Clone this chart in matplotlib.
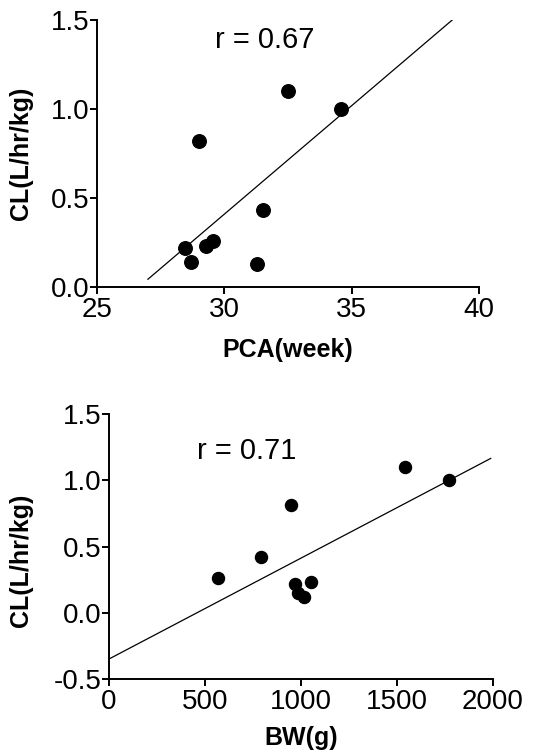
import matplotlib
matplotlib.use('Agg')
import matplotlib.pyplot as plt

plt.rcParams['font.family'] = ['Liberation Sans', 'DejaVu Sans']

# top panel: PCA vs CL
pca = [28.45, 28.7, 29.0, 29.3, 29.55, 31.3, 31.5, 32.5, 34.6]
cl_pca = [0.22, 0.14, 0.82, 0.23, 0.26, 0.13, 0.43, 1.10, 1.00]
pca_fit_x = [27.0, 38.95]
pca_fit_y = [0.043, 1.5]
r_pca = 'r = 0.67'

# bottom panel: BW vs CL
bw = [570, 790, 950, 970, 985, 1015, 1055, 1545, 1770]
cl_bw = [0.26, 0.42, 0.81, 0.22, 0.15, 0.12, 0.23, 1.10, 1.00]
bw_fit_x = [0, 1990]
bw_fit_y = [-0.347, 1.165]
r_bw = 'r = 0.71'

fig = plt.figure(figsize=(5.48, 7.55), dpi=100)
ax1 = fig.add_axes([0.177, 0.620, 0.697, 0.3535])
ax2 = fig.add_axes([0.199, 0.1003, 0.700, 0.3514])


def style(ax):
    for s in ['top', 'right']:
        ax.spines[s].set_visible(False)
    for s in ['left', 'bottom']:
        ax.spines[s].set_linewidth(1.4)
    ax.tick_params(direction='out', length=5, width=1.4, labelsize=20)
    ax.tick_params(axis='y', pad=0.5)
    ax.tick_params(axis='x', pad=2)


ax1.scatter(pca, cl_pca, s=95, color='black', zorder=3)
ax1.plot(pca_fit_x, pca_fit_y, color='black', lw=0.9)
ax1.set_xlim(25, 40)
ax1.set_ylim(0, 1.5)
ax1.set_xticks([25, 30, 35, 40])
ax1.set_yticks([0.0, 0.5, 1.0, 1.5])
ax1.set_yticklabels(['0.0', '0.5', '1.0', '1.5'])
ax1.text(29.63, 1.34, r_pca, fontsize=21, ha='left', va='baseline')
ax1.set_xlabel('PCA(week)', fontsize=18, fontweight='bold')
ax1.set_ylabel('CL(L/hr/kg)', fontsize=18, fontweight='bold')
ax1.xaxis.set_label_coords(0.5, -0.19)
ax1.yaxis.set_label_coords(-0.168, 0.5)
style(ax1)

ax2.scatter(bw, cl_bw, s=75, color='black', zorder=3)
ax2.plot(bw_fit_x, bw_fit_y, color='black', lw=0.9)
ax2.set_xlim(0, 2000)
ax2.set_ylim(-0.5, 1.5)
ax2.set_xticks([0, 500, 1000, 1500, 2000])
ax2.set_yticks([-0.5, 0.0, 0.5, 1.0, 1.5])
ax2.set_yticklabels(['-0.5', '0.0', '0.5', '1.0', '1.5'])
ax2.text(459, 1.16, r_bw, fontsize=21, ha='left', va='baseline')
ax2.set_xlabel('BW(g)', fontsize=18, fontweight='bold')
ax2.set_ylabel('CL(L/hr/kg)', fontsize=18, fontweight='bold')
ax2.xaxis.set_label_coords(0.5, -0.175)
ax2.yaxis.set_label_coords(-0.198, 0.45)
style(ax2)

fig.savefig('out.png', dpi=100)
